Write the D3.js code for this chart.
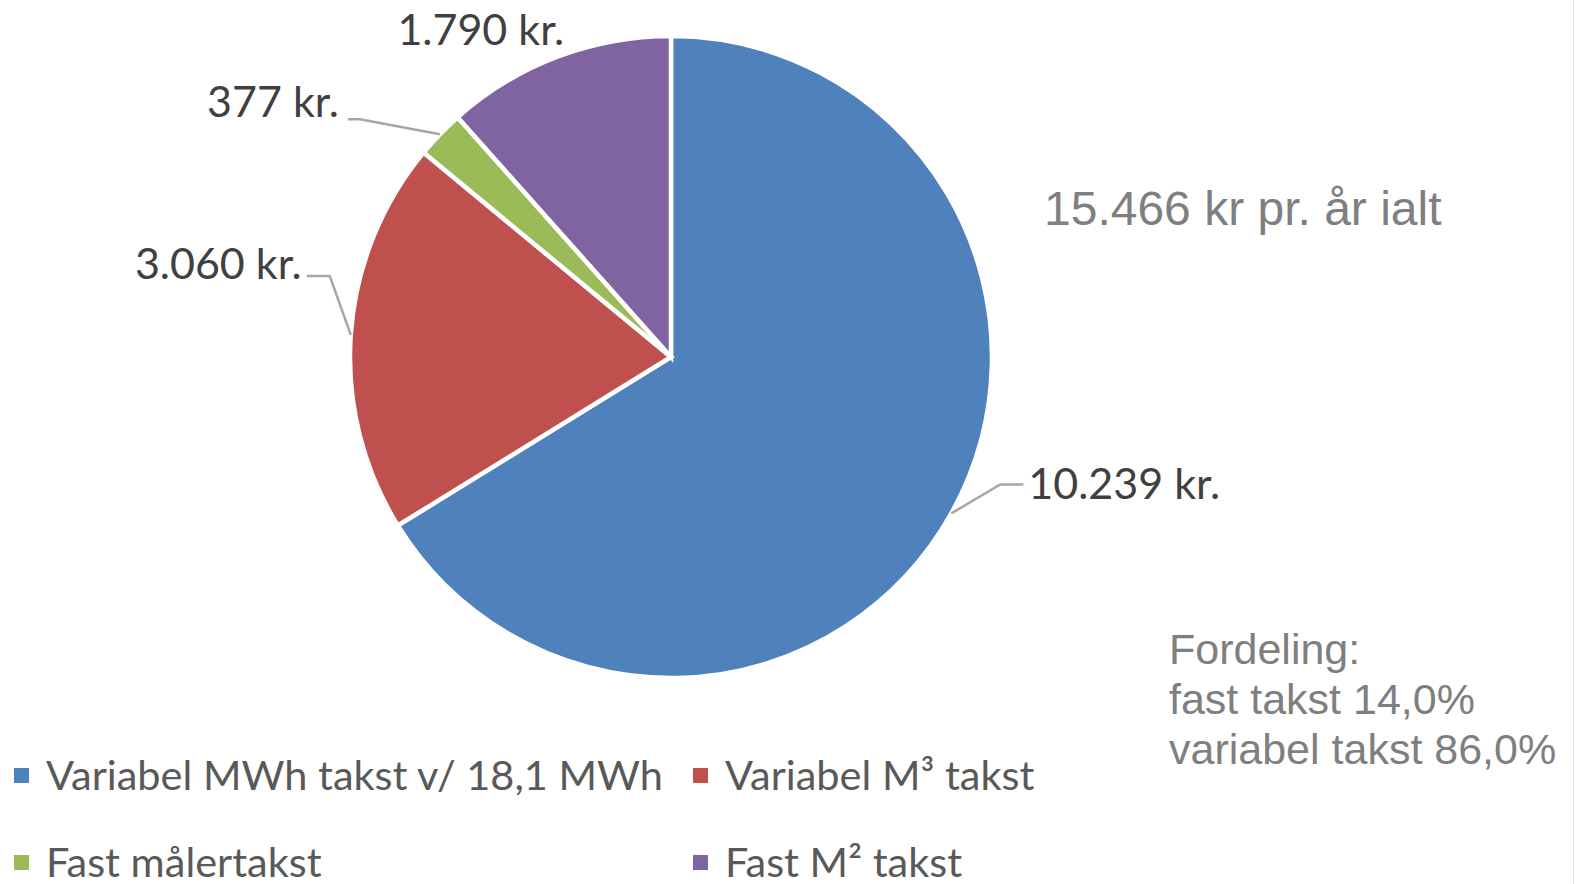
<!DOCTYPE html>
<html><head><meta charset="utf-8">
<script src="https://cdn.jsdelivr.net/npm/d3@7"></script>
<style>html,body{margin:0;padding:0;background:#fff;}svg{display:block;}</style>
</head><body>
<svg id="chart" width="1575" height="884"></svg>
<script>
// ---- data ----
const categories = ["Variabel MWh takst v/ 18,1 MWh", "Variabel M³ takst", "Fast målertakst", "Fast M² takst"];
const values = [10239, 3060, 377, 1790];
const valueLabels = ["10.239 kr.", "3.060 kr.", "377 kr.", "1.790 kr."];
const colors = ["#4f81bd", "#c0504d", "#9bbb59", "#8064a2"];
const titleText = "15.466 kr pr. år ialt";
const noteLines = ["Fordeling:", "fast takst 14,0%", "variabel takst 86,0%"];

// ---- layout ----
const W = 1575, H = 884;
const cx = 671, cy = 357, R = 321;
const svg = d3.select("#chart");
svg.append("rect").attr("width", W).attr("height", H).attr("fill", "#fff");
svg.append("line").attr("x1", W - 1.5).attr("x2", W - 1.5).attr("y1", 0).attr("y2", H)
  .attr("stroke", "#e6e6e6").attr("stroke-width", 1);

const pie = d3.pie().sort(null).value(d => d.v).startAngle(0).endAngle(2 * Math.PI);
const data = categories.map((c, i) => ({ c, v: values[i], lab: valueLabels[i], col: colors[i] }));
const arcs = pie(data);
const arc = d3.arc().innerRadius(0).outerRadius(R);

const g = svg.append("g").attr("transform", `translate(${cx},${cy})`);
g.selectAll("path.slice").data(arcs).enter().append("path")
  .attr("class", "slice")
  .attr("d", arc)
  .attr("fill", d => d.data.col)
  .attr("stroke", "#fff").attr("stroke-width", 4.5).attr("stroke-linejoin", "miter");

// label placement (offsets from slice edge midpoint), layout only
const labelLayout = [
  { elbow: [49, -29], end: [72, -29], text: [77, -14], anchor: "start", leader: true },
  { elbow: [-21, -59], end: [-44, -59], text: [-49, -56], anchor: "end", leader: true },
  { elbow: [-80, -15], end: [-92, -15], text: [-101, -17], anchor: "end", leader: true },
  { elbow: [0, 0], end: [0, 0], text: [-76, -12], anchor: "middle", leader: false }
];
const edge = d => {
  const a = (d.startAngle + d.endAngle) / 2;
  return [Math.sin(a) * R, -Math.cos(a) * R];
};
const gl = svg.append("g").attr("transform", `translate(${cx},${cy})`);
arcs.forEach((d, i) => {
  const L = labelLayout[i];
  const [ex, ey] = edge(d);
  if (L.leader) {
    gl.append("polyline")
      .attr("points", [[ex, ey], [ex + L.elbow[0], ey + L.elbow[1]], [ex + L.end[0], ey + L.end[1]]].map(p => p.join(",")).join(" "))
      .attr("fill", "none").attr("stroke", "#a6a6a6").attr("stroke-width", 2.5);
  }
  gl.append("text").attr("x", ex + L.text[0]).attr("y", ey + L.text[1])
    .attr("text-anchor", L.anchor)
    .attr("font-family", "Lato, 'Open Sans', sans-serif")
    .attr("font-size", 43).attr("fill", "#404040")
    .text(d.data.lab);
});

// title
svg.append("text").attr("x", 1044).attr("y", 225)
  .attr("font-family", "'Liberation Sans', Arial, sans-serif")
  .attr("font-size", 48).attr("fill", "#7f7f7f").text(titleText);

// note
const note = svg.append("text").attr("font-family", "'Liberation Sans', Arial, sans-serif")
  .attr("font-size", 43).attr("fill", "#7f7f7f");
noteLines.forEach((t, i) => note.append("tspan").attr("x", 1169).attr("y", 664 + i * 50).text(t));

// legend
const legendPos = [[14, 768], [693, 768], [14, 855], [693, 855]];
const lg = svg.append("g");
data.forEach((d, i) => {
  const [x, y] = legendPos[i];
  lg.append("rect").attr("x", x).attr("y", y).attr("width", 15).attr("height", 15).attr("fill", d.col);
  lg.append("text").attr("x", x + 32).attr("y", y + 22)
    .attr("font-family", "Lato, 'Open Sans', sans-serif")
    .attr("font-size", 41.5).attr("fill", "#595959").text(d.c);
});
</script>
</body></html>
